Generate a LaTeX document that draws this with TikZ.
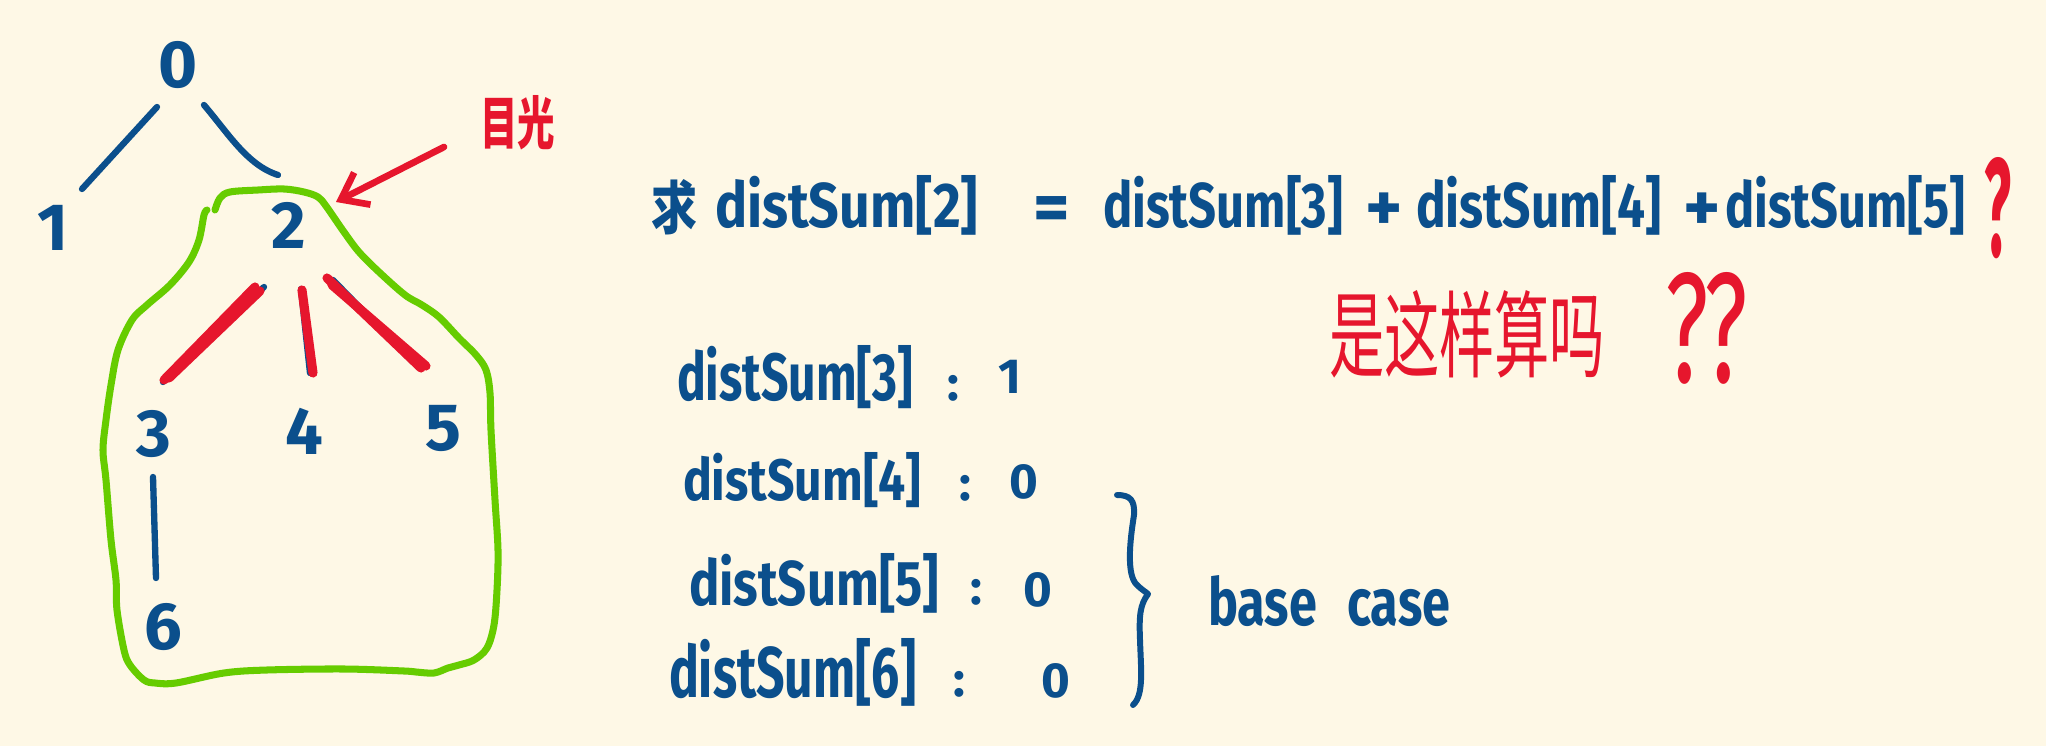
\documentclass[tikz,border=0pt]{standalone}
\usepackage{fontspec}
\setmainfont{Fira Sans}
\newfontfamily\cjk{Noto Sans CJK SC}
\usetikzlibrary{arrows.meta,calc}
\definecolor{bg}{HTML}{FEF8E6}
\definecolor{inkblue}{HTML}{0B4F8C}
\definecolor{inkred}{HTML}{E6162D}
\definecolor{inkgreen}{HTML}{66CC00}
\newcommand{\fitbox}[3]{\resizebox{#1cm}{#2cm}{#3}}
\begin{document}
\begin{tikzpicture}[x=0.01cm,y=-0.01cm,line cap=round,line join=round,
  txt/.style={inner sep=0pt,outer sep=0pt,text=inkblue,font=\bfseries},
  rtxt/.style={inner sep=0pt,outer sep=0pt,text=inkred,font=\mdseries},
  digit/.style={inner sep=0pt,text=inkblue,font=\fontsize{19}{19}\selectfont\bfseries},
  small/.style={inner sep=0pt,text=inkblue,font=\fontsize{14}{14}\selectfont\bfseries},
  edge/.style={draw=inkblue,line width=1.8pt},
  redge/.style={draw=inkred,line width=2.6pt},
  lasso/.style={draw=inkgreen,line width=2pt},
  gazearrow/.style={draw=inkred,line width=1.9pt,-{Straight Barb[length=2.4mm,width=3.6mm]}},
  bracestyle/.style={draw=inkblue,line width=1.7pt}]
\useasboundingbox (0,0) rectangle (2046,746);
\fill[bg] (0,0) rectangle (2046,746);

% tree nodes
\node[digit] (n0) at (178,65) {0};
\node[digit] (n1) at (53,228) {1};
\node[digit] (n2) at (289,225) {2};
\node[digit] (n3) at (154,434) {3};
\node[digit] (n4) at (304,431) {4};
\node[digit] (n5) at (443,428) {5};
\node[digit] (n6) at (163,627) {6};

% tree edges
\draw[edge] ($(n0)+(-21,42)$) -- ($(n1)+(29,-39)$);
\draw[edge] ($(n0)+(26,40)$) .. controls ($(n0)+(50,68)$) and ($(n2)+(-42,-60)$) .. ($(n2)+(-11,-50)$);
\draw[edge] ($(n3)+(-1,43)$) -- ($(n6)+(-7,-49)$);
\draw[edge] ($(n2)+(-25,62)$) -- ($(n3)+(9,-52)$);
\draw[edge] ($(n2)+(12,64)$) -- ($(n4)+(6,-58)$);
\draw[edge] ($(n2)+(44,55)$) -- ($(n5)+(-30,-66)$);
\draw[redge] ($(n2)+(-34,62)$) -- ($(n3)+(10,-54)$);
\draw[redge] ($(n2)+(-29,66)$) -- ($(n3)+(15,-56)$);
\draw[redge] ($(n2)+(13,65)$) -- ($(n4)+(9,-58)$);
\draw[redge] ($(n2)+(38,53)$) -- ($(n5)+(-22,-60)$);
\draw[redge] ($(n2)+(43,60)$) -- ($(n5)+(-17,-62)$);

% green lasso
\draw[lasso] plot[smooth,tension=0.55] coordinates {
 (215,210) (220,198) (230,192) (258,190) (284,189) (304,192) (318,197) (326,206)
 (344,232) (359,252) (379,272) (405,295) (422,305) (439,317) (459,338) (476,355)
 (486,370) (490,393) (491,430) (495,500) (498,550) (497,590) (494,625) (487,648)
 (474,660) (459,665) (448,668) (434,673) (416,672) (404,671) (344,669) (267,670)
 (224,673) (176,683) (155,683) (144,680) (130,665) (124,650) (117,610) (116,580)
 (111,540) (106,480) (103,450) (106,420) (111,385) (118,350) (132,320) (147,305)
 (170,285) (189,262) (199,240) (204,215) (207,210)};

% gaze label and arrow
\node[rtxt,anchor=base west] (gaze) at (480,145) {\fitbox{0.75}{0.49}{\cjk\bfseries 目光}};
\coordinate (gazetip) at (336,202);
\draw[gazearrow] ($(gaze.base west)+(-36,2)$) -- (gazetip);

% main equation
\node[txt,anchor=base west] (qiu) at (651,230) {\fitbox{0.46}{0.50}{\cjk\bfseries 求}};
\node[txt,anchor=base west] (e2) at (715,228) {\fitbox{2.63}{0.52}{distSum[2]}};
\node[txt,font=\fontsize{20}{20}\selectfont\bfseries] (eq) at (1052,214) {=};
\node[txt,anchor=base west] (e3) at (1103,228) {\fitbox{2.40}{0.52}{distSum[3]}};
\node[txt,font=\fontsize{20}{20}\selectfont\bfseries] (p1) at (1384,212) {+};
\node[txt,anchor=base west] (e4) at (1416,228) {\fitbox{2.45}{0.52}{distSum[4]}};
\node[txt,font=\fontsize{20}{20}\selectfont\bfseries] (p2) at (1702,212) {+};
\node[txt,anchor=base west] (e5) at (1725,228) {\fitbox{2.40}{0.52}{distSum[5]}};
\node[rtxt,anchor=base west,font=\bfseries] (q1) at (1984,257) {\fitbox{0.27}{0.99}{?}};

% question
\node[rtxt,anchor=base west] (ask) at (1329,370) {\fitbox{2.76}{0.80}{\cjk 是这样算吗}};
\node[rtxt,anchor=base west] (q2) at (1665,382) {\fitbox{0.83}{1.10}{??}};

% list
\node[txt,anchor=base west] (l3) at (677,400) {\fitbox{2.36}{0.55}{distSum[3]}};
\node[small] (c3) at (953,388) {:};
\node[small] (v3) at (1010,377) {1};
\node[txt,anchor=base west] (l4) at (683,500) {\fitbox{2.38}{0.48}{distSum[4]}};
\node[small] (c4) at (965,488) {:};
\node[small] (v4) at (1024,482) {0};
\node[txt,anchor=base west] (l5) at (689,605) {\fitbox{2.50}{0.52}{distSum[5]}};
\node[small] (c5) at (976,592) {:};
\node[small] (v5) at (1038,590) {0};
\node[txt,anchor=base west] (l6) at (669,697) {\fitbox{2.47}{0.59}{distSum[6]}};
\node[small] (c6) at (959,684) {:};
\node[small] (v6) at (1056,681) {0};

% brace
\draw[bracestyle] (1117,495) .. controls (1130,495) and (1135,500) .. (1134,515)
  .. controls (1130,540) and (1126,575) .. (1137,585) .. controls (1142,590) and (1146,592) .. (1148,594)
  .. controls (1140,605) and (1139,615) .. (1140,640) .. controls (1141,670) and (1144,695) .. (1133,705);
\node[txt,anchor=base west] (bc) at (1208,625) {\fitbox{2.42}{0.50}{base\hspace{0.6em}case}};
\end{tikzpicture}
\end{document}
